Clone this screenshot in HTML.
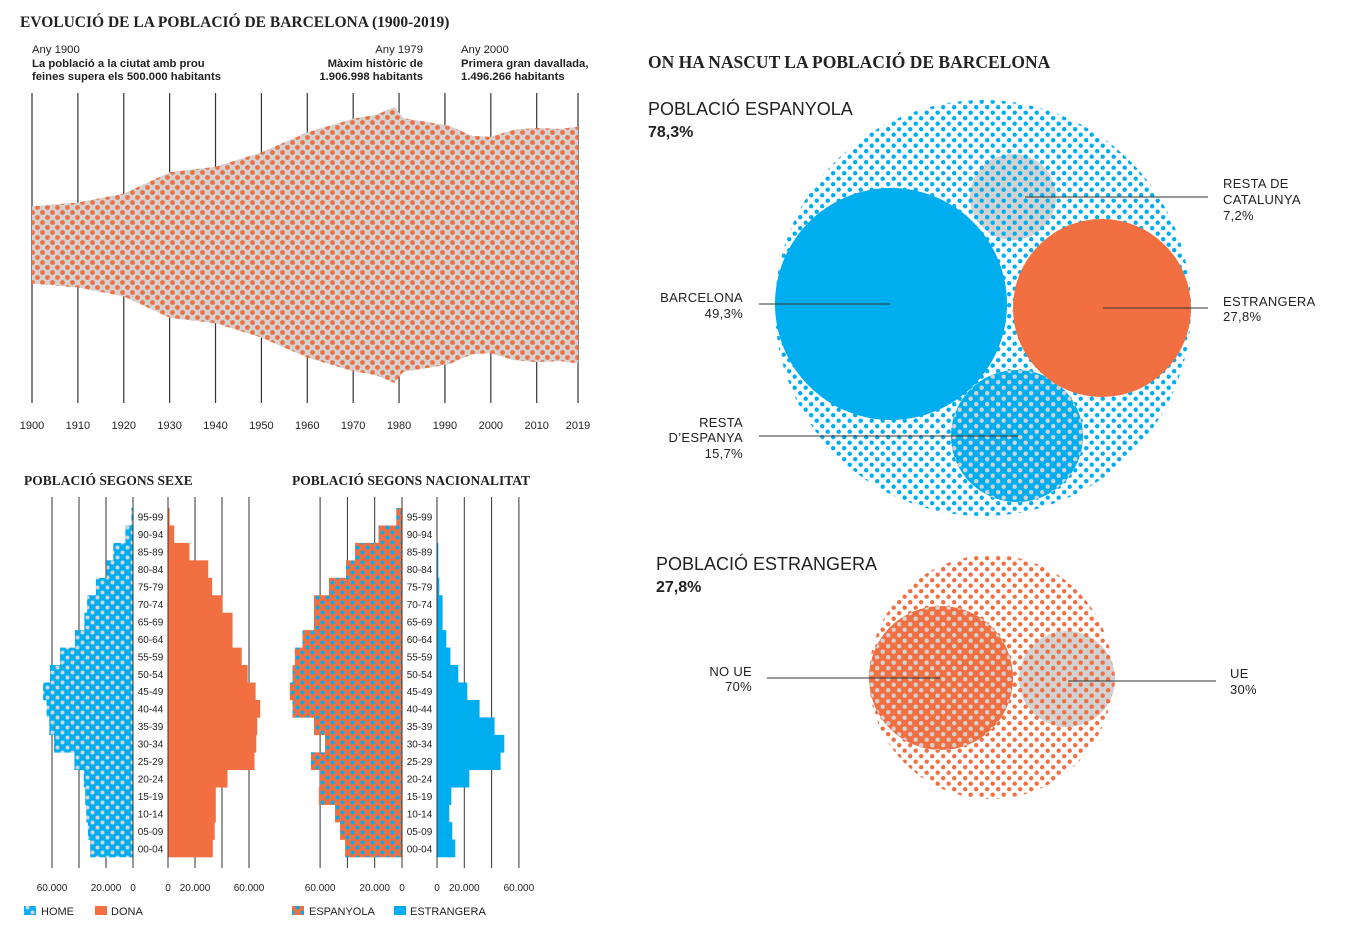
<!DOCTYPE html>
<html><head><meta charset="utf-8">
<style>
body{margin:0;background:#fff;width:1362px;height:948px;overflow:hidden;font-family:"Liberation Sans",sans-serif;}
svg{position:absolute;left:0;top:0}
.t{font-family:"Liberation Serif",serif;font-weight:bold;fill:#222}
.s{font-size:11.3px;fill:#222}
.b{font-size:11.3px;font-weight:bold;fill:#222}
.ax{font-size:11px;fill:#222}
.lab{font-size:13px;fill:#222;letter-spacing:0.3px}
</style></head><body>
<svg id="c" width="1362" height="948" xmlns="http://www.w3.org/2000/svg">
<defs>
<pattern id="pStream" width="10" height="10" patternUnits="userSpaceOnUse"><rect width="10" height="10" fill="#d2d2d2"/><circle cx="2.5" cy="2.5" r="2.4" fill="#f26f42"/><circle cx="7.5" cy="7.5" r="2.4" fill="#f26f42"/></pattern>
<pattern id="pHome" width="10" height="10" patternUnits="userSpaceOnUse"><rect width="10" height="10" fill="#00aeef"/><circle cx="2.5" cy="2.5" r="2" fill="#d4d4d4"/><circle cx="7.5" cy="7.5" r="2" fill="#d4d4d4"/></pattern>
<pattern id="pEsp" width="10" height="10" patternUnits="userSpaceOnUse"><rect width="10" height="10" fill="#f26f42"/><circle cx="2.5" cy="2.5" r="2" fill="#00aeef"/><circle cx="7.5" cy="7.5" r="2" fill="#00aeef"/></pattern>
<pattern id="pBlueW" width="11" height="11" patternUnits="userSpaceOnUse"><rect width="11" height="11" fill="#fff"/><circle cx="2.7" cy="2.7" r="2.2" fill="#00aeef"/><circle cx="8.2" cy="8.2" r="2.2" fill="#00aeef"/></pattern>
<pattern id="pBlueG" width="11" height="11" patternUnits="userSpaceOnUse"><rect width="11" height="11" fill="#d2d2d2"/><circle cx="2.7" cy="2.7" r="2.2" fill="#00aeef"/><circle cx="8.2" cy="8.2" r="2.2" fill="#00aeef"/></pattern>
<pattern id="pGrayB" width="11" height="11" patternUnits="userSpaceOnUse"><rect width="11" height="11" fill="#00aeef"/><circle cx="2.7" cy="2.7" r="2.2" fill="#d2d2d2"/><circle cx="8.2" cy="8.2" r="2.2" fill="#d2d2d2"/></pattern>
<pattern id="pOrW" width="11" height="11" patternUnits="userSpaceOnUse"><rect width="11" height="11" fill="#fff"/><circle cx="2.7" cy="2.7" r="2.2" fill="#f26f42"/><circle cx="8.2" cy="8.2" r="2.2" fill="#f26f42"/></pattern>
<pattern id="pOrG" width="11" height="11" patternUnits="userSpaceOnUse"><rect width="11" height="11" fill="#d2d2d2"/><circle cx="2.7" cy="2.7" r="2.2" fill="#f26f42"/><circle cx="8.2" cy="8.2" r="2.2" fill="#f26f42"/></pattern>
<pattern id="pGrayO" width="11" height="11" patternUnits="userSpaceOnUse"><rect width="11" height="11" fill="#f26f42"/><circle cx="2.7" cy="2.7" r="2.2" fill="#d2d2d2"/><circle cx="8.2" cy="8.2" r="2.2" fill="#d2d2d2"/></pattern>
</defs>

<text class="t" x="20" y="27" font-size="15.5">EVOLUCIÓ DE LA POBLACIÓ DE BARCELONA (1900-2019)</text>
<text class="s" x="32" y="53">Any 1900</text>
<text class="b" x="32" y="67">La població a la ciutat amb prou</text>
<text class="b" x="32" y="80">feines supera els 500.000 habitants</text>
<text class="s" x="423" y="53" text-anchor="end">Any 1979</text>
<text class="b" x="423" y="67" text-anchor="end">Màxim històric de</text>
<text class="b" x="423" y="80" text-anchor="end">1.906.998 habitants</text>
<text class="s" x="461" y="53">Any 2000</text>
<text class="b" x="461" y="67">Primera gran davallada,</text>
<text class="b" x="461" y="80">1.496.266 habitants</text>
<g id="stream"></g>

<text class="t" x="24" y="485" font-size="13.5">POBLACIÓ SEGONS SEXE</text>
<text class="t" x="292" y="485" font-size="13.5">POBLACIÓ SEGONS NACIONALITAT</text>
<g id="pyr"></g>
<rect x="24" y="906" width="12" height="9" fill="url(#pHome)"/>
<text class="ax" x="41" y="915" font-size="10">HOME</text>
<rect x="95" y="906" width="12" height="9" fill="#f26f42"/>
<text class="ax" x="111" y="915" font-size="10">DONA</text>
<rect x="292" y="906" width="12" height="9" fill="url(#pEsp)"/>
<text class="ax" x="309" y="915" font-size="10">ESPANYOLA</text>
<rect x="394" y="906" width="12" height="9" fill="#00aeef"/>
<text class="ax" x="410" y="915" font-size="10">ESTRANGERA</text>

<text class="t" x="648" y="68" font-size="17.5">ON HA NASCUT LA POBLACIÓ DE BARCELONA</text>
<text x="648" y="115" font-size="18" fill="#222">POBLACIÓ ESPANYOLA</text>
<text x="648" y="137" font-size="16" font-weight="bold" fill="#222">78,3%</text>
<circle cx="983" cy="308" r="208" fill="url(#pBlueW)"/>
<circle cx="1013" cy="197" r="43" fill="url(#pBlueG)"/>
<circle cx="1017" cy="436" r="66" fill="url(#pGrayB)"/>
<circle cx="891" cy="304" r="116" fill="#00aeef"/>
<circle cx="1102" cy="308" r="89" fill="#f26f42"/>
<g stroke="#333" stroke-width="1">
<line x1="1025" y1="197" x2="1208" y2="197"/><line x1="759" y1="304" x2="890" y2="304"/>
<line x1="1103" y1="308" x2="1208" y2="308"/><line x1="759" y1="436" x2="1018" y2="436"/>
</g>
<g>
<text class="lab" x="1223" y="188">RESTA DE</text>
<text class="lab" x="1223" y="204">CATALUNYA</text>
<text class="lab" x="1223" y="220">7,2%</text>
<text class="lab" x="1223" y="306">ESTRANGERA</text>
<text class="lab" x="1223" y="321">27,8%</text>
<text class="lab" x="743" y="302" text-anchor="end">BARCELONA</text>
<text class="lab" x="743" y="318" text-anchor="end">49,3%</text>
<text class="lab" x="743" y="427" text-anchor="end">RESTA</text>
<text class="lab" x="743" y="442" text-anchor="end">D’ESPANYA</text>
<text class="lab" x="743" y="458" text-anchor="end">15,7%</text>
<text class="lab" x="752" y="676" text-anchor="end">NO UE</text>
<text class="lab" x="752" y="691" text-anchor="end">70%</text>
<text class="lab" x="1230" y="678">UE</text>
<text class="lab" x="1230" y="694">30%</text>
</g>
<text x="656" y="570" font-size="18" fill="#222">POBLACIÓ ESTRANGERA</text>
<text x="656" y="592" font-size="16" font-weight="bold" fill="#222">27,8%</text>
<circle cx="991" cy="677" r="122" fill="url(#pOrW)"/>
<circle cx="941" cy="678" r="72" fill="url(#pGrayO)"/>
<circle cx="1067" cy="679" r="48" fill="url(#pOrG)"/>
<g stroke="#333" stroke-width="1">
<line x1="767" y1="678" x2="940" y2="678"/><line x1="1068" y1="681" x2="1216" y2="681"/>
</g>
</svg>
<script>
const years=[1900,1910,1920,1930,1940,1950,1960,1970,1975,1979,1981,1986,1991,1996,2000,2005,2010,2015,2019];
const population=[533,587,710,1005,1081,1280,1557,1745,1800,1907,1752,1701,1644,1509,1496,1593,1619,1605,1636];
const tickYears=[1900,1910,1920,1930,1940,1950,1960,1970,1980,1990,2000,2010,2019];
const ageGroups=["95-99","90-94","85-89","80-84","75-79","70-74","65-69","60-64","55-59","50-54","45-49","40-44","35-39","30-34","25-29","20-24","15-19","10-14","05-09","00-04"];
const home=[1200,5600,14600,19500,27500,34000,36000,43000,54000,61500,66600,64000,62000,58500,43400,36500,35400,34600,33400,31700];
const dona=[1200,4600,15900,29800,32700,40500,47800,47800,54600,59000,64900,68300,66100,65400,64100,44100,35400,35400,34600,33200];
const espanyola=[4200,17200,34400,41000,53500,64500,64500,72900,78500,80200,82200,80200,64500,56400,66700,60100,60900,49100,45400,41700];
const estrangera=[0,200,1000,1000,1700,4100,4100,6800,9800,15600,22200,31200,42200,49300,46600,23700,10500,9000,11200,13400];
const NS="http://www.w3.org/2000/svg";
function mk(tag,attrs,parent){const e=document.createElementNS(NS,tag);for(const k in attrs)e.setAttribute(k,attrs[k]);parent.appendChild(e);return e;}
const sg=document.getElementById('stream');
const xY=y=>32+(y-1900)*(546/119);
const midY=245, kpx=0.1447;
tickYears.forEach(y=>{
  const l=mk('line',{x1:xY(y),x2:xY(y),y1:93,y2:403,stroke:'#333','stroke-width':1.2},sg);
  
  
  const t=mk('text',{x:xY(y),y:429,'text-anchor':'middle','font-size':11,fill:'#222'},sg);t.textContent=y;
  
  
});
const upperPts=years.map((y,i)=>xY(y)+','+(midY-population[i]*kpx/2));
const lowerPts=years.map((y,i)=>xY(y)+','+(midY+population[i]*kpx/2)).reverse();
const area=mk('polygon',{points:upperPts.concat(lowerPts).join(' '),fill:'url(#pStream)'},sg);


const pg=document.getElementById('pyr');
const rowTop=508,rowH=17.45;
function pyramid(lz,rz,scale,leftVals,rightVals,lfill,rfill,lname,rname){
  [60000,40000,20000].forEach(v=>{const l=mk('line',{x1:lz-v*scale,x2:lz-v*scale,y1:497,y2:868,stroke:'#333','stroke-width':1},pg);
    
    });
  [20000,40000,60000].forEach(v=>{const l=mk('line',{x1:rz+v*scale,x2:rz+v*scale,y1:497,y2:868,stroke:'#333','stroke-width':1},pg);
    
    });
  [[lz-60000*scale,'60.000'],[lz-20000*scale,'20.000'],[lz,'0'],[rz,'0'],[rz+20000*scale,'20.000'],[rz+60000*scale,'60.000']].forEach(a=>{
    const t=mk('text',{x:a[0],y:891,'text-anchor':'middle','font-size':10,fill:'#222'},pg);t.textContent=a[1];
    
    });
  ageGroups.forEach((g,i)=>{
    const y=rowTop+i*rowH;
    const a=mk('rect',{x:lz-leftVals[i]*scale,y:y,width:leftVals[i]*scale,height:rowH+0.3,fill:lfill},pg);
    
    
    const b=mk('rect',{x:rz,y:y,width:rightVals[i]*scale,height:rowH+0.3,fill:rfill},pg);
    
    
    const t=mk('text',{x:(lz+rz)/2,y:y+rowH/2+4,'text-anchor':'middle','font-size':10,fill:'#222'},pg);t.textContent=g;
    
    
  });
  const z1=mk('line',{x1:lz,x2:lz,y1:497,y2:868,stroke:'#333','stroke-width':1},pg);
  
  
  const z2=mk('line',{x1:rz,x2:rz,y1:497,y2:868,stroke:'#333','stroke-width':1},pg);
  
  
}
pyramid(133,168,27/20000,home,dona,'url(#pHome)','#f26f42','home','dona');
pyramid(402,437,27.3/20000,espanyola,estrangera,'url(#pEsp)','#00aeef','espanyola','estrangera');
</script>
</body></html>
